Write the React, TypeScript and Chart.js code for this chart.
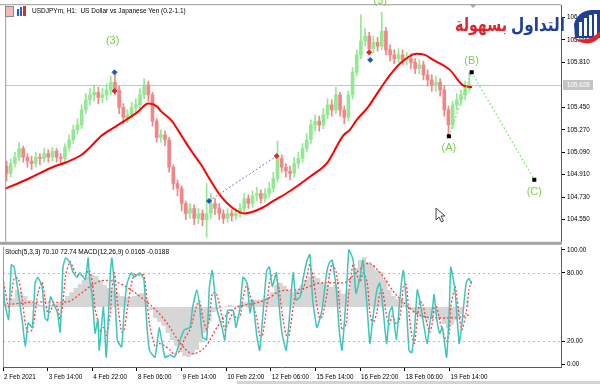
import React, { useEffect, useRef } from "react";
import { Chart, registerables } from "chart.js";
Chart.register(...registerables);

// ---------- price candles (one candle = 3 H1 bars) ----------
const opens = [
  104.98, 104.92, 105.00, 105.05, 105.12, 105.05, 105.02, 105.00, 105.05, 105.04,
  105.08, 105.05, 105.10, 105.05, 105.04, 105.13, 105.19, 105.27, 105.31, 105.43,
  105.51, 105.55, 105.57, 105.53, 105.55, 105.59, 105.65, 105.59, 105.45, 105.37,
  105.39, 105.45, 105.47, 105.55, 105.63, 105.55, 105.34, 105.21, 105.23, 105.19,
  104.97, 104.84, 104.80, 104.68, 104.60, 104.64, 104.56, 104.60, 104.55, 104.60,
  104.68, 104.64, 104.60, 104.56, 104.60, 104.58, 104.60, 104.64, 104.72, 104.68,
  104.74, 104.76, 104.72, 104.76, 104.80, 104.88, 105.04, 104.97, 104.94, 104.92,
  105.00, 105.04, 105.12, 105.19, 105.31, 105.34, 105.31, 105.39, 105.47, 105.43,
  105.55, 105.43, 105.37, 105.55, 105.73, 105.87, 105.98, 106.02, 105.92, 105.97,
  105.94, 106.06, 105.91, 105.87, 105.84, 105.87, 105.83, 105.84, 105.81, 105.76,
  105.79, 105.71, 105.67, 105.63, 105.65, 105.59, 105.43, 105.31, 105.47, 105.51,
  105.55, 105.60,
];
const closes = [
  104.92, 105.00, 105.05, 105.12, 105.05, 105.02, 105.00, 105.05, 105.04, 105.08,
  105.05, 105.10, 105.05, 105.04, 105.13, 105.19, 105.27, 105.31, 105.43, 105.51,
  105.55, 105.57, 105.53, 105.55, 105.59, 105.65, 105.59, 105.45, 105.37, 105.39,
  105.45, 105.47, 105.55, 105.63, 105.55, 105.34, 105.21, 105.23, 105.19, 104.97,
  104.84, 104.80, 104.68, 104.60, 104.64, 104.56, 104.60, 104.55, 104.60, 104.68,
  104.64, 104.60, 104.56, 104.60, 104.58, 104.60, 104.64, 104.72, 104.68, 104.74,
  104.76, 104.72, 104.76, 104.80, 104.88, 105.04, 104.97, 104.94, 104.92, 105.00,
  105.04, 105.12, 105.19, 105.31, 105.34, 105.31, 105.39, 105.47, 105.43, 105.55,
  105.43, 105.37, 105.55, 105.73, 105.87, 105.98, 106.02, 105.92, 105.97, 105.94,
  106.06, 105.91, 105.87, 105.84, 105.87, 105.83, 105.84, 105.81, 105.76, 105.79,
  105.71, 105.67, 105.63, 105.65, 105.59, 105.43, 105.31, 105.47, 105.51, 105.55,
  105.60, 105.63,
];
const highs = [
  105.02, 105.04, 105.09, 105.17, 105.14, 105.08, 105.06, 105.09, 105.08, 105.12,
  105.11, 105.13, 105.12, 105.08, 105.16, 105.23, 105.31, 105.36, 105.47, 105.56,
  105.60, 105.63, 105.61, 105.60, 105.64, 105.70, 105.74, 105.62, 105.48, 105.43,
  105.49, 105.52, 105.60, 105.68, 105.66, 105.57, 105.36, 105.27, 105.26, 105.21,
  104.99, 104.87, 104.82, 104.70, 104.68, 104.67, 104.64, 104.63, 104.84, 104.76,
  104.72, 104.68, 104.63, 104.64, 104.63, 104.64, 104.68, 104.76, 104.75, 104.78,
  104.81, 104.79, 104.80, 104.85, 104.93, 105.18, 105.07, 105.00, 104.98, 105.05,
  105.09, 105.16, 105.24, 105.35, 105.39, 105.38, 105.44, 105.52, 105.51, 105.61,
  105.57, 105.46, 105.58, 105.77, 105.91, 106.19, 106.08, 106.05, 106.02, 106.01,
  106.21, 106.09, 105.95, 105.91, 105.92, 105.91, 105.89, 105.88, 105.84, 105.83,
  105.82, 105.75, 105.71, 105.70, 105.68, 105.62, 105.46, 105.50, 105.56, 105.59,
  105.66, 105.73,
];
const lows = [
  104.86, 104.89, 104.97, 105.02, 105.01, 104.97, 104.95, 104.97, 104.99, 105.01,
  105.01, 105.02, 105.01, 104.99, 105.02, 105.10, 105.16, 105.24, 105.28, 105.40,
  105.47, 105.50, 105.48, 105.49, 105.51, 105.55, 105.55, 105.40, 105.32, 105.33,
  105.36, 105.41, 105.44, 105.52, 105.50, 105.30, 105.17, 105.17, 105.14, 104.93,
  104.79, 104.74, 104.62, 104.55, 104.56, 104.51, 104.52, 104.50, 104.41, 104.56,
  104.59, 104.55, 104.52, 104.53, 104.54, 104.55, 104.57, 104.61, 104.64, 104.65,
  104.70, 104.68, 104.69, 104.73, 104.77, 104.85, 104.93, 104.89, 104.87, 104.89,
  104.96, 105.01, 105.09, 105.16, 105.26, 105.26, 105.28, 105.36, 105.38, 105.40,
  105.38, 105.32, 105.34, 105.52, 105.70, 105.84, 105.94, 105.88, 105.89, 105.90,
  105.91, 105.87, 105.82, 105.80, 105.81, 105.79, 105.79, 105.76, 105.72, 105.72,
  105.67, 105.62, 105.58, 105.58, 105.54, 105.38, 105.22, 105.28, 105.43, 105.47,
  105.51, 105.58,
];

// ---------- moving average ----------
const maHours = [0, 9, 19, 34, 44, 55, 62, 69, 80, 87, 95, 103, 109, 112, 120, 127, 134, 141, 148, 155, 163, 172, 184, 193, 205, 220, 232, 243, 248, 253, 261, 270, 277, 284, 296, 302, 308, 320, 329, 336];
const maValues = [104.80, 104.84, 104.89, 104.97, 105.01, 105.07, 105.14, 105.22, 105.30, 105.35, 105.41, 105.48, 105.46, 105.42, 105.34, 105.22, 105.10, 104.99, 104.86, 104.74, 104.65, 104.60, 104.64, 104.70, 104.78, 104.90, 105.01, 105.22, 105.27, 105.35, 105.45, 105.60, 105.71, 105.80, 105.88, 105.87, 105.83, 105.75, 105.63, 105.61];

// ---------- stochastic (5,3,3) ----------
const stochHours = [0,1,4,6,8,11,14,16,18,21,23,25,28,30,32,34,36,39,41,43,45,48,50,53,55,59,61,62,64,66,68,69,72,74,77,78,80,82,85,87,89,92,94,98,101,103,105,109,112,116,120,123,127,130,134,136,139,141,143,146,148,150,153,157,159,161,165,167,170,172,175,177,179,182,184,186,189,191,193,196,198,200,203,205,208,210,213,215,218,220,222,225,227,229,232,234,236,239,241,243,246,248,251,253,256,258,261,263,265,268,270,272,275,277,279,282,284,286,287,289,291,293,295,297,299,301,304,306,308,309,311,313,315,318,320,321,324,325,327,329,332,334,336];
const stochMain = [80,56,39,87,85,62,36,15,36,32,71,76,68,41,38,59,54,45,28,85,93,89,81,76,80,74,93,76,59,27,39,12,50,6,80,93,65,21,15,50,71,80,76,80,74,36,12,6,32,6,8,6,21,30,32,50,65,50,24,21,68,82,50,32,21,47,47,32,50,76,71,45,56,24,12,39,82,85,68,80,50,27,12,36,80,56,59,74,91,96,56,32,39,50,80,89,91,65,30,12,59,100,91,62,76,91,50,18,39,65,71,54,18,45,50,21,50,76,82,56,12,10,30,65,54,39,18,36,50,61,39,27,32,6,50,85,65,50,18,36,71,75,70.1];
const stochSignal = [75,68,50,60,75,75,55,35,28,30,45,62,72,58,45,46,52,50,38,55,78,90,85,78,78,77,82,82,72,48,38,28,32,25,45,65,80,55,28,30,48,70,78,78,78,58,35,15,18,16,12,8,12,22,30,38,52,55,42,30,40,62,62,42,30,35,45,40,42,58,70,60,52,40,25,25,50,72,78,76,65,45,25,25,50,62,62,65,78,88,78,52,40,42,60,78,88,80,55,30,35,65,88,80,72,80,72,45,35,45,62,65,42,35,42,35,38,55,68,70,45,25,18,40,55,52,35,28,38,50,50,38,30,20,28,50,68,62,42,30,45,65,72.74];

// ---------- MACD (12,26,9) ----------
const macdHist = [
  0.005, 0.005, 0.020, 0.040, 0.035, 0.026, 0.017, 0.010, 0.007, 0.005,
  0.002, 0.005, 0.007, 0.010, 0.017, 0.026, 0.035, 0.045, 0.054, 0.064,
  0.071, 0.076, 0.073, 0.064, 0.052, 0.045, 0.040, 0.033, 0.026, 0.024,
  0.024, 0.026, 0.031, 0.033, 0.017, -0.007, -0.026, -0.035, -0.045, -0.061,
  -0.078, -0.092, -0.106, -0.116, -0.118, -0.113, -0.101, -0.083, -0.061, -0.035,
  -0.012, -0.005, -0.002, 0.002, 0.005, 0.002, 0.005, 0.009, 0.012, 0.017,
  0.017, 0.017, 0.019, 0.024, 0.035, 0.052, 0.057, 0.050, 0.040, 0.035,
  0.040, 0.052, 0.064, 0.071, 0.073, 0.068, 0.057, 0.052, 0.047, 0.052,
  0.040, 0.031, 0.040, 0.068, 0.092, 0.111, 0.118, 0.106, 0.099, 0.087,
  0.083, 0.064, 0.040, 0.026, 0.019, 0.012, 0.005, -0.007, -0.014, -0.019,
  -0.026, -0.031, -0.021, -0.017, -0.026, -0.040, -0.050, -0.042, -0.031, -0.017,
  -0.002, 0.0165,
];
const macdSignalHours = [1,10,19,28,37,46,55,64,73,82,91,100,109,118,127,136,145,154,163,172,181,190,199,208,217,226,235,244,253,262,271,280,289,298,307,316,325,334];
const macdSignal = [0.005,0.008,0.011,0.012,0.011,0.012,0.030,0.052,0.063,0.058,0.042,0.020,-0.005,-0.040,-0.085,-0.110,-0.094,-0.045,-0.010,0.004,0.009,0.020,0.038,0.040,0.045,0.056,0.057,0.057,0.080,0.103,0.078,0.036,0.005,-0.018,-0.025,-0.026,-0.025,-0.0188];

// ---------- axes ----------
const priceTicks = [104.55, 104.73, 104.91, 105.09, 105.27, 105.45, 105.81, 105.99, 106.17];
const oscTicks = [0, 20, 80, 100];
const oscLevels = [20, 80];
const timeTickHours = [0, 32, 64, 96, 128, 160, 192, 224, 256, 288, 320];
const timeTickLabels = ["2 Feb 2021", "3 Feb 14:00", "4 Feb 22:00", "8 Feb 06:00", "9 Feb 14:00", "10 Feb 22:00", "12 Feb 06:00", "15 Feb 14:00", "16 Feb 22:00", "18 Feb 06:00", "19 Feb 14:00"];
const currentPrice = 105.628;

// ---------- annotations ----------
const waveTexts = ["(3)", "(5)", "(A)", "(B)", "(C)"];
const waveHours = [77.3, 269.9, 319.3, 335.7, 380.8];
const wavePrices = [105.984, 106.30, 105.123, 105.818, 104.776];
const wavePointHours = [319.3, 335.7, 380.8];
const wavePointPrices = [105.218, 105.731, 104.870];
const tradeHours = [78.7, 78.7, 262.0, 262.7, 146.7, 195.4];
const tradePrices = [105.73, 105.58, 105.89, 105.83, 104.70, 105.06];
const tradeSides = ["buy", "sell", "sell", "buy", "buy", "sell"];
const linkHours = [146.7, 195.4];
const linkPrices = [104.70, 105.06];

const titleText = "USDJPYm, H1:  US Dollar vs Japanese Yen (0.2-1.1)";
const oscText = "Stoch(5,3,3) 70.10 72.74 MACD(12,26,9) 0.0165 -0.0188";
const logoBlue = "التداول";
const logoRed = "بسهولة";

const UP = "#93e893";
const DOWN = "#f28585";
const AXIS_FONT = { family: "Liberation Sans", size: 6.3 };

function fixY(s: any) {
  s.width = 39;
  s.paddingTop = 0;
  s.paddingBottom = 0;
}

const mainDecor = {
  id: "mainDecor",
  beforeDatasetsDraw(chart: any) {
    const { ctx, chartArea, scales } = chart;
    const y = Math.round(scales.y.getPixelForValue(currentPrice)) + 0.5;
    ctx.save();
    ctx.strokeStyle = "#c4c4c4";
    ctx.lineWidth = 1;
    ctx.beginPath();
    ctx.moveTo(chartArea.left, y);
    ctx.lineTo(chartArea.right, y);
    ctx.stroke();
    ctx.restore();
  },
  afterDraw(chart: any) {
    const { ctx, chartArea, scales } = chart;
    ctx.save();
    // borders
    ctx.strokeStyle = "#9a9a9a";
    ctx.lineWidth = 1;
    ctx.beginPath();
    ctx.moveTo(chartArea.left + 0.5, chartArea.top);
    ctx.lineTo(chartArea.left + 0.5, chartArea.bottom);
    ctx.moveTo(0, chartArea.top - 0.5);
    ctx.lineTo(chartArea.right, chartArea.top - 0.5);
    ctx.stroke();
    ctx.fillStyle = "#a4a4a4";
    ctx.fillRect(0, chartArea.bottom, chartArea.right + 1, 3);

    // title icons + text
    ctx.fillStyle = "#f4b8b8";
    ctx.fillRect(5, 6, 8, 10);
    ctx.strokeStyle = "#8a8a8a";
    ctx.strokeRect(5.5, 6.5, 8, 10);
    ctx.fillStyle = "#2a5bd7";
    ctx.fillRect(17, 9, 2, 7);
    ctx.fillRect(20, 7, 2, 9);
    ctx.fillStyle = "#d83030";
    ctx.fillRect(23, 6, 3, 10);
    ctx.fillStyle = "#000";
    ctx.font = '6.5px "Liberation Sans"';
    ctx.textAlign = "left";
    ctx.textBaseline = "middle";
    ctx.fillText(titleText, 32, 11);

    // chart-shift triangle
    ctx.fillStyle = "#a8a8a8";
    ctx.beginPath();
    ctx.moveTo(469, 4);
    ctx.lineTo(477, 4);
    ctx.lineTo(473, 8);
    ctx.closePath();
    ctx.fill();

    // wave labels
    ctx.font = '11px "Liberation Sans"';
    ctx.textAlign = "center";
    ctx.textBaseline = "middle";
    ctx.fillStyle = "#78d048";
    waveTexts.forEach((t, i) => {
      ctx.fillText(t, scales.x.getPixelForValue(waveHours[i]), scales.y.getPixelForValue(wavePrices[i]));
    });

    // current price label
    const py = Math.round(scales.y.getPixelForValue(currentPrice));
    ctx.fillStyle = "#c4c4c4";
    ctx.fillRect(chartArea.right + 2, py - 5, 30, 10);
    ctx.fillStyle = "#fff";
    ctx.font = '6.3px "Liberation Sans"';
    ctx.textAlign = "left";
    ctx.fillText(currentPrice.toFixed(3), chartArea.right + 6, py);

    // mouse cursor
    ctx.beginPath();
    ctx.moveTo(436, 208);
    ctx.lineTo(436, 220);
    ctx.lineTo(439, 217);
    ctx.lineTo(441.5, 222);
    ctx.lineTo(443.5, 221);
    ctx.lineTo(441, 216);
    ctx.lineTo(445, 216);
    ctx.closePath();
    ctx.fillStyle = "#fff";
    ctx.fill();
    ctx.strokeStyle = "#444";
    ctx.stroke();

    // logo icon
    ctx.fillStyle = "#1f3f9b";
    ctx.beginPath();
    ctx.moveTo(574, 24);
    ctx.quadraticCurveTo(578, 11, 591, 10);
    ctx.lineTo(600, 10);
    ctx.lineTo(600, 38);
    ctx.lineTo(575, 38);
    ctx.closePath();
    ctx.fill();
    ctx.fillStyle = "#fff";
    [[579, 22, 3, 14], [584, 18, 3, 18], [589, 15, 3, 21], [594, 14, 3, 22]].forEach((r) => ctx.fillRect(r[0], r[1], r[2], r[3]));
    ctx.fillStyle = "#e0242c";
    ctx.beginPath();
    ctx.moveTo(572, 37);
    ctx.quadraticCurveTo(587, 45, 600, 31);
    ctx.lineTo(600, 37);
    ctx.quadraticCurveTo(588, 50, 572, 37);
    ctx.closePath();
    ctx.fill();

    // logo text: fitted to width, stretched to the reference height
    const fit = (text: string, color: string, right: number, width: number) => {
      ctx.save();
      ctx.font = 'bold 20px "DejaVu Sans"';
      const w = ctx.measureText(text).width || width;
      const size = (20 * width) / w;
      ctx.font = `bold ${size}px "DejaVu Sans"`;
      ctx.fillStyle = color;
      ctx.textAlign = "right";
      ctx.textBaseline = "alphabetic";
      const stretch = Math.min(1.8, 19 / size);
      ctx.translate(right, 31);
      ctx.scale(1, stretch);
      ctx.fillText(text, 0, 0);
      ctx.restore();
    };
    fit(logoBlue, "#1f3f9b", 565, 54);
    fit(logoRed, "#e0242c", 507, 52);
    ctx.restore();
  },
};

const oscDecor = {
  id: "oscDecor",
  beforeDatasetsDraw(chart: any) {
    const { ctx, chartArea, scales } = chart;
    ctx.save();
    ctx.strokeStyle = "#b8b8b8";
    ctx.lineWidth = 1;
    ctx.setLineDash([2, 3]);
    oscLevels.forEach((lv) => {
      const y = Math.round(scales.y.getPixelForValue(lv)) + 0.5;
      ctx.beginPath();
      ctx.moveTo(chartArea.left, y);
      ctx.lineTo(chartArea.right, y);
      ctx.stroke();
    });
    ctx.restore();
  },
  afterDraw(chart: any) {
    const { ctx, chartArea } = chart;
    ctx.save();
    ctx.strokeStyle = "#9a9a9a";
    ctx.beginPath();
    ctx.moveTo(chartArea.left + 0.5, chartArea.top);
    ctx.lineTo(chartArea.left + 0.5, chartArea.bottom);
    ctx.stroke();
    ctx.fillStyle = "#000";
    ctx.font = '6.5px "Liberation Sans"';
    ctx.textAlign = "left";
    ctx.textBaseline = "middle";
    ctx.fillText(oscText, 5, 5);
    ctx.fillStyle = "#d4d4d4";
    ctx.fillRect(237, 134, 363, 3);
    ctx.restore();
  },
};

export default function App() {
  const mainRef = useRef<HTMLCanvasElement>(null);
  const oscRef = useRef<HTMLCanvasElement>(null);

  useEffect(() => {
    const candleHours = closes.map((_, k) => 1 + 3 * k);
    const colors = closes.map((c, k) => (c >= opens[k] ? UP : DOWN));

    const main = new Chart(mainRef.current as HTMLCanvasElement, {
      type: "bar",
      data: {
        datasets: [
          {
            type: "line",
            data: tradeHours.map((h, i) => ({ x: h, y: tradePrices[i] })),
            showLine: false,
            pointStyle: "rectRot",
            pointRadius: 2.5,
            pointBackgroundColor: tradeSides.map((s) => (s === "buy" ? "#1c55c8" : "#e02828")),
            pointBorderColor: tradeSides.map((s) => (s === "buy" ? "#1c55c8" : "#e02828")),
            order: 0,
          } as any,
          {
            type: "line",
            data: wavePointHours.map((h, i) => ({ x: h, y: wavePointPrices[i] })),
            borderColor: "#6ee05a",
            borderWidth: 1.2,
            borderDash: [1.5, 2.5],
            pointStyle: "rect",
            pointRadius: 2,
            pointBackgroundColor: "#000",
            pointBorderColor: "#000",
            tension: 0,
            order: 1,
          } as any,
          {
            type: "line",
            data: linkHours.map((h, i) => ({ x: h, y: linkPrices[i] })),
            borderColor: "#5f82d8",
            borderWidth: 1,
            borderDash: [2, 2],
            pointRadius: 0,
            order: 2,
          } as any,
          {
            type: "line",
            data: maHours.map((h, i) => ({ x: h, y: maValues[i] })),
            borderColor: "#ff0000",
            borderWidth: 2,
            pointRadius: 0,
            cubicInterpolationMode: "monotone",
            order: 3,
          } as any,
          {
            type: "bar",
            data: candleHours.map((h, k) => ({ x: h, y: [opens[k], closes[k]] })),
            backgroundColor: colors,
            barThickness: 3,
            grouped: false,
            order: 4,
          } as any,
          {
            type: "bar",
            data: candleHours.map((h, k) => ({ x: h, y: [lows[k], highs[k]] })),
            backgroundColor: colors,
            barThickness: 1,
            grouped: false,
            order: 5,
          } as any,
        ],
      },
      options: {
        responsive: false,
        animation: false,
        events: [],
        layout: { padding: { left: 3, top: 4, right: 0, bottom: 3 } },
        plugins: { legend: { display: false }, tooltip: { enabled: false } },
        scales: {
          x: { type: "linear", min: 0, max: 400, offset: false, display: false, grid: { offset: false } },
          y: {
            type: "linear",
            position: "right",
            min: 104.373,
            max: 106.268,
            afterFit: fixY,
            afterBuildTicks: (axis: any) => {
              axis.ticks = priceTicks.map((v) => ({ value: v }));
            },
            ticks: {
              autoSkip: false,
              padding: 2,
              color: "#000",
              font: AXIS_FONT,
              callback: (v: any) => Number(v).toFixed(3),
            },
            grid: { drawOnChartArea: false, color: "#000", tickLength: 4 },
            border: { display: true, color: "#5a5a5a" },
          },
        },
      } as any,
      plugins: [mainDecor],
    });

    const osc = new Chart(oscRef.current as HTMLCanvasElement, {
      type: "line",
      data: {
        datasets: [
          {
            data: stochHours.map((h, i) => ({ x: h, y: stochMain[i] })),
            yAxisID: "y",
            borderColor: "#3fc4bc",
            borderWidth: 1.5,
            pointRadius: 0,
            tension: 0.15,
            order: 0,
          },
          {
            data: stochHours.map((h, i) => ({ x: h, y: stochSignal[i] })),
            yAxisID: "y",
            borderColor: "#ff3c3c",
            borderWidth: 1.3,
            borderDash: [2, 2],
            pointRadius: 0,
            tension: 0.2,
            order: 1,
          },
          {
            data: macdSignalHours.map((h, i) => ({ x: h, y: macdSignal[i] })),
            yAxisID: "yM",
            borderColor: "#ff3c3c",
            borderWidth: 1.3,
            borderDash: [2, 2],
            pointRadius: 0,
            cubicInterpolationMode: "monotone",
            order: 2,
          },
          {
            data: candleHours.map((h, k) => ({ x: h, y: macdHist[k] })),
            yAxisID: "yM",
            borderWidth: 0,
            borderColor: "rgba(0,0,0,0)",
            backgroundColor: "#d6d6d6",
            fill: "origin",
            pointRadius: 0,
            stepped: "middle",
            order: 3,
          },
        ],
      },
      options: {
        responsive: false,
        animation: false,
        events: [],
        layout: { padding: { left: 3, top: 0, right: 0, bottom: 0 } },
        plugins: { legend: { display: false }, tooltip: { enabled: false } },
        scales: {
          x: {
            type: "linear",
            min: 0,
            max: 400,
            offset: false,
            afterFit: (s: any) => {
              s.height = 17;
              s.paddingLeft = 0;
              s.paddingRight = 0;
            },
            afterBuildTicks: (axis: any) => {
              axis.ticks = timeTickHours.map((v) => ({ value: v }));
            },
            ticks: {
              autoSkip: false,
              maxRotation: 0,
              align: "start",
              labelOffset: 1,
              padding: 2,
              color: "#000",
              font: AXIS_FONT,
              callback: (_v: any, i: number) => timeTickLabels[i],
            },
            grid: { drawOnChartArea: false, color: "#000", tickLength: 4, offset: false },
            border: { display: true, color: "#5a5a5a" },
          },
          y: {
            type: "linear",
            position: "right",
            min: -2.6,
            max: 102.6,
            afterFit: fixY,
            afterBuildTicks: (axis: any) => {
              axis.ticks = oscTicks.map((v) => ({ value: v }));
            },
            ticks: {
              autoSkip: false,
              padding: 2,
              color: "#000",
              font: AXIS_FONT,
              callback: (v: any) => Number(v).toFixed(2),
            },
            grid: { drawOnChartArea: false, color: "#000", tickLength: 4 },
            border: { display: true, color: "#5a5a5a" },
          },
          yM: { type: "linear", position: "right", min: -0.1416, max: 0.1416, display: false },
        },
      } as any,
      plugins: [oscDecor],
    });

    return () => {
      main.destroy();
      osc.destroy();
    };
  }, []);

  return (
    <div style={{ position: "fixed", left: 0, top: 0, width: 600, height: 384, background: "#fff", overflow: "hidden" }}>
      <canvas ref={mainRef} width={600} height={247} style={{ position: "absolute", left: 0, top: 0 }} />
      <canvas ref={oscRef} width={600} height={137} style={{ position: "absolute", left: 0, top: 247 }} />
    </div>
  );
}
